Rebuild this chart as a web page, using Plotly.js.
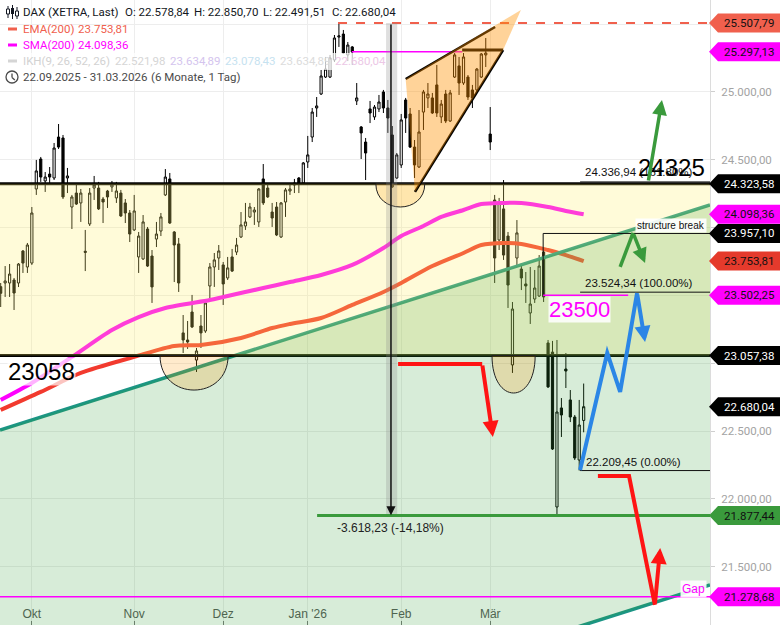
<!DOCTYPE html>
<html><head><meta charset="utf-8">
<script src="https://cdn.plot.ly/plotly-3.0.1.min.js"></script>
<style>html,body{margin:0;padding:0;background:#fff}#chart{width:780px;height:625px}</style>
</head><body><div id="chart"></div>
<script>
// ---------- data (daily candles, index = trading day from 22.09.2025) ----------
const candleOpen=[23565,23592,23592,23614,23592,23828,23710,23739,24285,24506,
 24344,24395,24366,24668,24661,24366,24152,24255,24182,23826,
 24027,24292,24292,24211,24270,24300,24219,24255,24182,24108,
 23983,23784,23769,23990,23791,23916,23975,24241,24359,23968,
 23880,23224,23172,23378,23024,23275,23238,23570,23710,23776,
 23725,23629,23784,23820,23931,24012,24079,24115,24042,24359,
 24292,24115,24152,23931,24189,24270,24314,24366,24329,24484,
 24668,24882,24985,25110,25110,25236,25405,25427,25273,25332,
 24934,24742,24631,24875,24816,24875,25000,24882,24683,24366,
 24462,24941,24838,24594,24447,24852,24956,24956,25052,24816,
 24985,24786,25110,25192,25066,25110,25015,25015,25110,25273,
 24690,24204,23909,24138,23938,22988,23776,23695,23585,23371,
 23474,23496,23820,23150,23083,21941,22671,22958,22730,22604,
 22287,22578.84];
const candleHigh=[23592,23717,23732,23629,23739,23835,23887,24152,24499,24521,
 24410,24447,24624,24764,24683,24440,24241,24329,24285,23983,
 24292,24381,24337,24226,24278,24344,24337,24278,24211,24130,
 24241,23968,24093,24005,23835,24042,24108,24432,24403,23975,
 23924,23356,23312,23504,23113,23356,23467,23739,23813,23872,
 23747,23784,23843,23924,24115,24182,24182,24152,24292,24469,
 24314,24182,24189,24189,24292,24329,24359,24373,24484,24676,
 24882,24963,25162,25258,25273,25420,25507.79,25457,25368,25339,
 25066,24749,24661,24934,24904,24978,25015,24941,24749,24550,
 24838,24956,24882,24646,24867,25015,25066,24993,25199,24941,
 25015,25015,25287,25258,25287,25125,25052,25177,25287,25398,
 24889,24241,24219,24351,23968,23452,24056,23739,23673,23710,
 23688,23798,23835,23172,23165,23172,22744,23076,22803,22619,
 22730,22850.70];
const candleLow=[23415,23489,23489,23393,23562,23666,23666,23725,24241,24337,
 24263,24322,24351,24580,24211,24255,23990,24167,24042,23680,
 24012,24204,24130,24034,24145,24263,24182,24079,24034,23894,
 23975,23666,23762,23710,23445,23857,23938,24233,24027,23599,
 23526,23076,23106,23260,22936,23113,23224,23467,23563,23688,
 23430,23614,23673,23798,23924,23983,24071,24020,24005,24167,
 24219,24005,23938,23924,24079,24241,24255,24255,24322,24440,
 24631,24816,24978,25103,25103,25221,25332,25280,25228,25199,
 24904,24506,24351,24771,24794,24852,24845,24698,24292,24359,
 24440,24698,24587,24366,24440,24720,24882,24838,24816,24771,
 24771,24779,25103,24978,25052,24941,24882,25000,25103,25184,
 24572,23592,23835,23762,23408,22929,23710,23540,23445,23290,
 23445,23489,23452,22818,22361,21877.44,22457,22818,22567,22287,
 22209.45,22491.51];
const candleClose=[23516,23607,23658,23518,23732,23739,23872,24108,24418,24373,
 24373,24373,24587,24594,24226,24381,24226,24174,24255,23818,
 24255,24314,24138,24189,24226,24322,24270,24086,24108,23953,
 24123,23938,24042,23717,23563,23953,24079,24373,24034,23872,
 23592,23172,23157,23268,23091,23224,23445,23710,23762,23828,
 23585,23703,23680,23872,24020,24042,24152,24130,24285,24182,
 24226,24071,23946,24182,24278,24285,24329,24329,24477,24536,
 24852,24897,25118,25169,25251,25398,25413,25287,25346,25295,
 24956,24698,24550,24845,24889,24926,24882,24808,24300,24536,
 24794,24808,24594,24462,24705,25000,24985,24845,24845,24911,
 24786,24993,25273,25066,25258,24963,24956,25169,25280,25287,
 24631,23776,24182,23798,23577,23400,23961,23629,23570,23437,
 23555,23717,23489,22826,22368,22641,22619,22943,22604,22302,
 22545,22680.04];

const emaIdx=[0,9,18,30,39,45,54,61,65,72,79,86,90,97,104,108,113,117,123,127,131];
const emaVal=[22656,22789,22929,23047,23128,23135,23187,23260,23290,23334,23430,23526,23592,23717,23813,23872,23887,23880,23835,23798,23753.81];
const smaIdx=[0,7,16,25,31,37,47,50,59,65,72,79,86,90,95,99,104,108,113,117,123,127,131];
const smaVal=[22730,22855,23047,23246,23341,23408,23467,23489,23555,23599,23651,23725,23850,23939,24012,24079,24130,24174,24182,24182,24152,24123,24098.36];

const monthIdx=[7,30,50,69,90,110];
const monthLabels=['Okt','Nov','Dez',"Jan '26",'Feb','Mär'];

const priceTicks=[21500,22000,22500,23000,23500,24000,24500,25000,25500];
const hiddenTicks=[23000,23500,24000,25500]; // covered by price tags

const tagValues=[25507.79,25297.13,24323.58,24098.36,23957.10,23753.81,23502.25,23057.38,22680.04,21877.44,21278.68];
const tagBg=['#f0604d','#ff00ff','#000000','#ff00ff','#000000','#e53a2c','#ff00ff','#000000','#000000','#3a9a3c','#ff00ff'];
const tagFg=['#111','#111','#fff','#111','#fff','#111','#111','#fff','#fff','#111','#111'];

// ---------- layout helpers ----------
const Y0=21071, Y1=25678, X0=-0.157, X1=159.39;
const W=710, H=625;
const pX=x=>x/W, pY=y=>1-y/H;
const fmt=v=>{const [a,b]=v.toFixed(2).split('.');return a.replace(/\B(?=(\d{3})+(?!\d))/g,'.')+','+b;};
const UI='Roboto, sans-serif', DR='Liberation Sans, Arial, sans-serif';

const idx=candleOpen.map((_,i)=>i);

const traces=[
 {type:'candlestick',x:idx,open:candleOpen,high:candleHigh,low:candleLow,close:candleClose,
  increasing:{line:{color:'#000',width:1},fillcolor:'#ffffff'},
  decreasing:{line:{color:'#000',width:1},fillcolor:'#000000'},
  whiskerwidth:0,hoverinfo:'skip',showlegend:false},
 {type:'scatter',mode:'lines',x:emaIdx,y:emaVal,line:{color:'#f23a2e',width:4,shape:'spline',smoothing:0.8},hoverinfo:'skip',showlegend:false},
 {type:'scatter',mode:'lines',x:smaIdx,y:smaVal,line:{color:'#ff00ff',width:4,shape:'spline',smoothing:0.8},hoverinfo:'skip',showlegend:false}
];

const shapes=[];
const L=(x0,y0,x1,y1,color,width,dash)=>shapes.push({type:'line',xref:'x',yref:'y',x0,y0,x1,y1,layer:'above',line:{color,width,dash:dash||'solid'}});
const HL=(y,color,width)=>shapes.push({type:'line',xref:'paper',yref:'y',x0:0,x1:1,y0:y,y1:y,layer:'above',line:{color,width}});
const PATH=(path,fill,lc,lw)=>shapes.push({type:'path',xref:'x',yref:'y',path,layer:'above',fillcolor:fill||'rgba(0,0,0,0)',line:{color:lc||'rgba(0,0,0,0)',width:lw||0}});

// trend channel lines (below the zone fills)
L(X0,22508.5,X1,24167,'#1b9585',3.5);
L(X0,19707.5,X1,21366,'#1b9585',3.5);
// support / resistance lines
HL(24323.58,'#000',3);
HL(23057.38,'#000',3);
// yellow zone
shapes.push({type:'rect',xref:'paper',yref:'y',x0:0,x1:1,y0:23057.38,y1:24323.58,layer:'above',fillcolor:'rgba(255,240,105,0.25)',line:{width:0}});
// green channel fill
PATH(`M ${X0},22508.5 L ${X1},24167 L ${X1},21366 L ${X0},19707.5 Z`,'rgba(56,160,60,0.2)');
// cups
PATH('M 35.8,23057.4 C 35.8,22718 51.1,22718 51.1,23057.4 Z','rgba(255,152,0,0.2)','#222',1);
PATH('M 84.3,24323.6 C 84.3,24095 95.3,24095 95.3,24323.6 Z','rgba(255,152,0,0.2)','#222',1);
PATH('M 110.4,23057.4 C 110.4,22689 120.1,22689 120.1,23057.4 Z','rgba(255,152,0,0.2)','#222',1);
// top lines
L(75.8,25507.79,X1,25507.79,'#f0604d',2,'dash');
L(78.9,25297.13,103.7,25297.13,'#ff00ff',1.5);
L(103.7,25309,112.9,25309,'#000',3);
// rising wedge
L(91.0,25095.7,111.1,25479,'#000',2.5);
L(93.1,24263,112.9,25309,'#000',2.5);
PATH('M 91.0,25095.7 L 116.9,25604 L 112.9,25309 L 93.1,24263 Z','rgba(255,145,0,0.4)');
// measurement band
shapes.push({type:'rect',xref:'x',yref:'y',x0:86.6,x1:89.1,y0:21877.44,y1:25507.79,layer:'above',fillcolor:'rgba(140,140,140,0.28)',line:{width:0}});
// levels
L(71.1,21877.44,X1,21877.44,'#3a9a3c',3);
HL(21278.68,'#ff00ff',1.5);
L(130.2,24336.94,X1,24336.94,'#111',1);
L(130.2,23524.34,X1,23524.34,'#111',1);
L(130.2,22209.45,X1,22209.45,'#111',1);
L(121.9,23957.10,X1,23957.10,'#111',1);
L(121.9,23957.10,121.9,23502.25,'#111',1);
L(121.9,23502.25,141.0,23502.25,'#ff00ff',1.5);
// scenario paths
PATH('M 89.3,22995 L 108.2,22995','rgba(0,0,0,0)','#ff1414',4);
PATH('M 134.2,22169 L 141.2,22169 L 147.0,21219','rgba(0,0,0,0)','#ff1414',4);
PATH('M 130.2,22214 L 136.3,23076 L 139.2,22789 L 143.0,23518','rgba(0,0,0,0)','#2b86e6',4);
PATH('M 139.2,23710 L 142.1,23961','rgba(0,0,0,0)','#3a9a3c',3.5);

// legend background (over candles)
shapes.push({type:'rect',xref:'paper',yref:'paper',x0:pX(0),x1:pX(386),y0:pY(70),y1:pY(53),layer:'above',fillcolor:'rgba(255,255,255,0.72)',line:{width:0}});
// legend icons
const R=(x0,y0,x1,y1,fill,lc)=>shapes.push({type:'rect',xref:'paper',yref:'paper',x0:pX(x0),x1:pX(x1),y0:pY(y1),y1:pY(y0),layer:'above',fillcolor:fill,line:{color:lc||fill,width:lc?1:0}});
const PL=(x0,y0,x1,y1,c,w)=>shapes.push({type:'line',xref:'paper',yref:'paper',x0:pX(x0),x1:pX(x1),y0:pY(y0),y1:pY(y1),layer:'above',line:{color:c,width:w}});
PL(8,6,8,18,'#131722',1); R(6.5,9,9.5,14,'#fff','#131722');
PL(12.5,5,12.5,19,'#131722',1); R(11,8,14,14,'#131722');
PL(17,7,17,19,'#131722',1); R(15.5,11,18.5,16,'#fff','#131722');
R(8,27.5,17,30.5,'#f0604d');
R(8,43.5,17,46.5,'#ff00ff');
R(8,59.5,17,62.5,'#d5d5d5');
shapes.push({type:'circle',xref:'paper',yref:'paper',x0:pX(6),x1:pX(18),y0:pY(83),y1:pY(71),layer:'above',line:{color:'#4a4a4a',width:1.3}});
PL(12,73.5,12,77.5,'#4a4a4a',1.3); PL(12,77.5,14.8,80,'#4a4a4a',1.3);

// price tags
const hh=9.5/H;
tagValues.forEach((v,i)=>{
  const yc=(v-Y0)/(Y1-Y0);
  shapes.push({type:'path',xref:'paper',yref:'paper',layer:'above',fillcolor:tagBg[i],line:{width:0},
    path:`M ${pX(709)},${yc} L ${pX(718)},${yc+hh} L ${pX(780)},${yc+hh} L ${pX(780)},${yc-hh} L ${pX(718)},${yc-hh} Z`});
});

// ---------- annotations ----------
const ann=[];
const T=(px,py,text,color,size,family)=>ann.push({xref:'paper',yref:'paper',x:pX(px),y:pY(py),xanchor:'left',yanchor:'middle',text,showarrow:false,font:{color,size:size||11.5,family:family||UI},borderpad:0});
T(22,12,'DAX (XETRA, Last)','#131722');
T(124,12,'O: 22.578,84','#131722');
T(193,12,'H: 22.850,70','#131722');
T(262,12,'L: 22.491,51','#131722');
T(331,12,'C: 22.680,04','#131722');
T(22,29,'EMA(200)','#f0604d'); T(77,29,'23.753,81','#f0604d');
T(22,45,'SMA(200)','#ff00ff'); T(77,45,'24.098,36','#ff00ff');
T(22,61,'IKH(9, 26, 52, 26)','#d2d2d2');
T(114,61,'22.521,98','#d6d6d6');
T(169,61,'23.634,89','#d4c4ee');
T(224,61,'23.078,43','#c6e2f0');
T(279,61,'23.634,89','#dcdcdc');
T(334,61,'22.680,04','#ecc8e6');
T(22,77,'22.09.2025 - 31.03.2026','#4a4a4a');
T(150,77,'(6 Monate, 1 Tag)','#4a4a4a');

tagValues.forEach((v,i)=>ann.push({xref:'paper',yref:'y',x:pX(749),y:v,xanchor:'center',yanchor:'middle',text:fmt(v),showarrow:false,font:{color:tagFg[i],size:11.5,family:UI},borderpad:0}));

const D=(x,y,text,opts)=>ann.push(Object.assign({xref:'x',yref:'y',x,y,text,showarrow:false,xanchor:'center',yanchor:'middle',font:{color:'#111',size:11.5,family:DR},borderpad:0},opts||{}));
D(131.1,24410,'24.336,94 (161.80%)',{xanchor:'left'});
D(131.1,23592,'23.524,34 (100.00%)',{xanchor:'left'});
D(131.3,22273,'22.209,45 (0.00%)',{xanchor:'left'});
D(87.7,21786,'-3.618,23 (-14,18%)',{font:{color:'#222',size:12,family:DR}});
D(150.7,24440,'24325',{font:{color:'#000',size:24,family:DR}});
D(9.06,22936,'23058',{font:{color:'#000',size:24,family:DR},bgcolor:'rgba(255,255,255,0.7)'});
D(130.1,23393,'23500',{font:{color:'#ff00ff',size:22,family:DR},bgcolor:'rgba(255,255,255,0.85)'});
D(150.6,24019.5,'structure break',{font:{color:'#111',size:10,family:DR},bgcolor:'rgba(255,255,255,0.9)',borderpad:1});
D(155.6,21336,'Gap',{font:{color:'#ff00ff',size:12,family:DR},bgcolor:'rgba(255,255,255,0.9)',borderpad:1});

const A=(x,y,ax,ay,color,width,size)=>ann.push({xref:'x',yref:'y',axref:'x',ayref:'y',x,y,ax,ay,text:'',showarrow:true,arrowhead:2,arrowsize:size,arrowwidth:width,arrowcolor:color,standoff:0,startstandoff:0});
A(87.7,21880,87.7,25507.79,'#111',1.5,1.2);
A(110.6,22457,108.2,22995,'#ff1414',4,0.8);
A(148.2,21639,147.0,21219,'#ff1414',4,0.8);
A(144.8,23157,143.0,23518,'#2b86e6',4,0.8);
A(144.8,23739,142.1,23961,'#3a9a3c',3.5,0.85);
A(148.6,24941,145.5,24337,'#3a9a3c',3.5,0.85);

const layout={
  width:780,height:625,margin:{l:0,r:70,t:0,b:0},
  paper_bgcolor:'#fff',plot_bgcolor:'#fff',separators:',.',
  showlegend:false,hovermode:false,
  xaxis:{range:[X0,X1],tickvals:monthIdx,ticktext:monthLabels,showgrid:true,gridcolor:'#ededed',
    ticks:'inside',ticklen:4,tickcolor:'#777',ticklabelposition:'inside',
    tickfont:{family:DR,size:12,color:'#555'},zeroline:false,showline:false,
    rangeslider:{visible:false},fixedrange:true},
  yaxis:{side:'right',range:[Y0,Y1],tickvals:priceTicks,
    ticktext:priceTicks.map(v=>hiddenTicks.includes(v)?'':fmt(v)),showgrid:true,gridcolor:'#ededed',
    ticks:'outside',ticklen:4,tickcolor:'#cfcfcf',ticklabelstandoff:4,
    tickfont:{family:UI,size:11.5,color:'#a3a3a3'},zeroline:false,showline:true,linecolor:'#dcdcdc',linewidth:1,fixedrange:true},
  shapes,annotations:ann
};
Plotly.newPlot('chart',traces,layout,{displayModeBar:false,staticPlot:true});
</script>
</body></html>
